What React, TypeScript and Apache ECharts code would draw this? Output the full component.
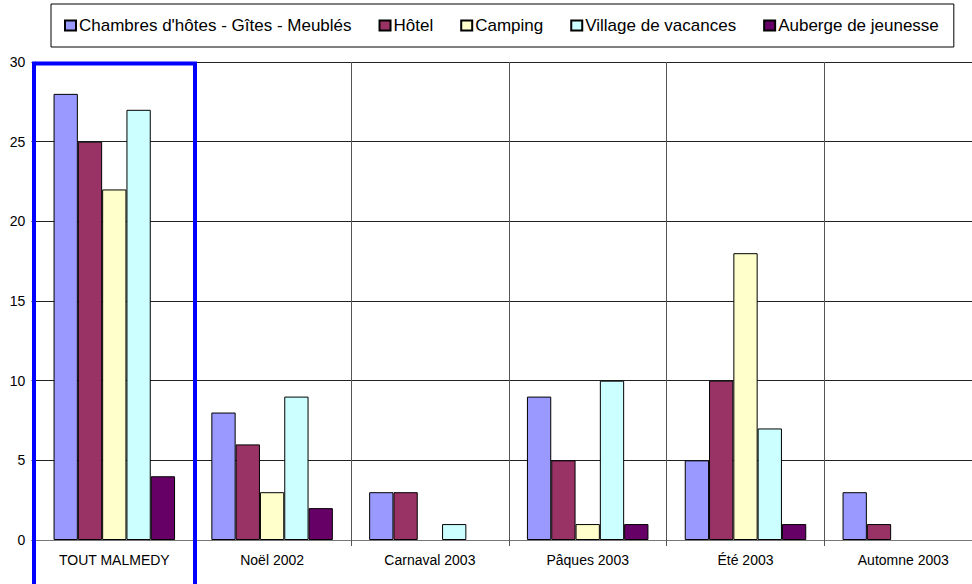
import React, { useEffect, useRef } from "react";
import * as echarts from "echarts";

const categories = ["TOUT MALMEDY", "Noël 2002", "Carnaval 2003", "Pâques 2003", "Été 2003", "Automne 2003"];
const seriesNames = ["Chambres d'hôtes - Gîtes - Meublés", "Hôtel", "Camping", "Village de vacances", "Auberge de jeunesse"];
const chambres = [28, 8, 3, 9, 5, 3];
const hotel = [25, 6, 3, 5, 10, 1];
const camping = [22, 3, 0, 1, 18, 0];
const village = [27, 9, 1, 10, 7, 0];
const auberge = [4, 2, 0, 1, 1, 0];
const colors = ["#9999FF", "#993366", "#FFFFCC", "#CCFFFF", "#660066"];

export default function App() {
  const ref = useRef<HTMLDivElement>(null);
  useEffect(() => {
    if (!ref.current) return;
    document.body.style.margin = "0";
    const chart = echarts.init(ref.current, null, { renderer: "svg" });
    const allData = [chambres, hotel, camping, village, auberge];
    chart.setOption({
      animation: false,
      textStyle: { fontFamily: "Liberation Sans, Arial, sans-serif" },
      legend: {
        left: 51,
        top: 4,
        padding: [13, 15, 13, 13],
        borderColor: "#000",
        borderWidth: 1,
        itemWidth: 11,
        itemHeight: 10,
        itemGap: 27,
        icon: "rect",
        textStyle: { fontSize: 17, color: "#000", padding: [0, 0, 0, -2] },
        data: seriesNames,
      },
      grid: {
        left: 35.4,
        top: 62,
        width: 946.8,
        bottom: 44,
        containLabel: false,
        outerBoundsMode: "none",
      },
      xAxis: {
        type: "category",
        data: categories,
        boundaryGap: true,
        axisLine: { lineStyle: { color: "#777", width: 1 } },
        axisTick: { show: true, length: 6, lineStyle: { color: "#555" } },
        axisLabel: { color: "#000", fontSize: 14, margin: 13 },
        splitLine: { show: true, lineStyle: { color: "#555", width: 1 } },
      },
      yAxis: {
        type: "value",
        min: 0,
        max: 30,
        interval: 5,
        axisLine: { show: true, lineStyle: { color: "#000" } },
        axisTick: { show: true, length: 4, lineStyle: { color: "#555" } },
        axisLabel: { color: "#000", fontSize: 14, margin: 10 },
        splitLine: { show: true, lineStyle: { color: "#222", width: 1 } },
      },
      series: seriesNames.map((name, i) => ({
        name,
        type: "bar",
        data: allData[i].map((v) => (v === 0 ? null : v)),
        barGap: "0%",
        barCategoryGap: "23%",
        itemStyle: { color: colors[i], borderColor: "#000", borderWidth: 1 },
      })),
      graphic: [
        {
          type: "rect",
          shape: { x: 34, y: 63.5, width: 161, height: 540 },
          style: { fill: "none", stroke: "#0000FF", lineWidth: 4 },
          z: 100,
        },
      ],
    });
    return () => chart.dispose();
  }, []);
  return <div ref={ref} style={{ width: 972, height: 584 }} />;
}
